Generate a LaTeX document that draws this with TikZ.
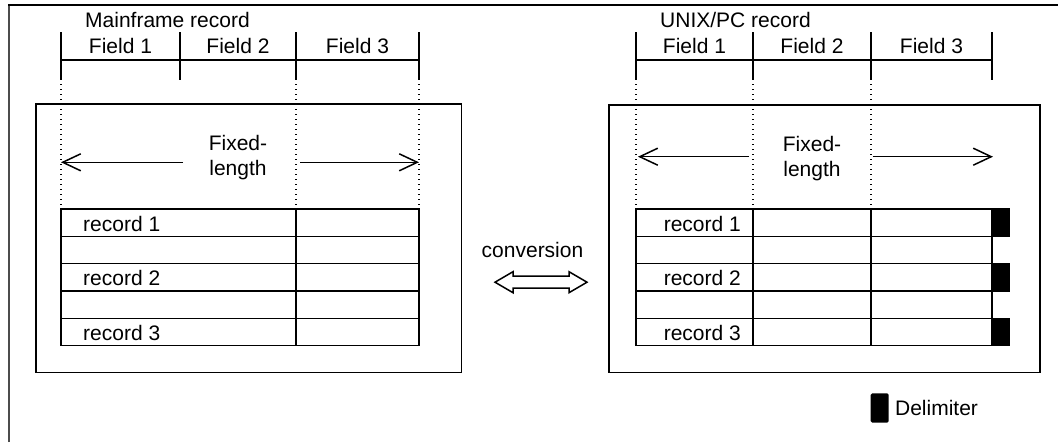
\documentclass[tikz,border=0pt]{standalone}
\usepackage{fontspec}
\setmainfont{Liberation Sans}
\usetikzlibrary{arrows.meta,positioning}

\begin{document}
\begin{tikzpicture}[x=1pt,y=-1pt]
		\tikzstyle{lbl}=[inner sep=0pt, font=\fontsize{21}{25}\selectfont]
		\tikzstyle{connect}=[line width=1.5pt]
		\tikzstyle{dots}=[line width=1.4pt, dash pattern=on 1.4pt off 3.6pt]
		\tikzstyle{span}=[line width=1.5pt, -{Straight Barb[length=18pt,width=17pt,line width=1.5pt]}]
		\tikzstyle{box}=[rectangle, draw=black!100, line width=1.5pt]
		\useasboundingbox (0,0) rectangle (1058,442);
		
		% frame
		\draw[line width=2.6pt, black!70] (9,442) -- (9,5);
		\draw[line width=2pt] (8,5) -- (1058,5);
		
		% mainframe side
		\draw[box] (36,104) rectangle (461.7,372.7);
		\node[lbl, anchor=base west] (mtitle) at (85,27) {Mainframe record};
		\draw[connect] (61,32) -- (61,80) (180,32) -- (180,80) (296,32) -- (296,80) (419,32) -- (419,80);
		\draw[connect] (61,60) -- (419,60);
		\node[lbl, anchor=base] (mf1) at (120.5,53) {Field 1};
		\node[lbl, anchor=base] (mf2) at (238,53)   {Field 2};
		\node[lbl, anchor=base] (mf3) at (357.5,53) {Field 3};
		\draw[dots] (61,84) -- (61,208) (296,84) -- (296,208) (419,84) -- (419,208);
		
		\node[lbl, anchor=north, align=center] (mfix) at (238,135) {Fixed-\\length};
		\coordinate (ma) at (183,162.3);
		\coordinate (mb) at (61,162.3);
		\coordinate (mc) at (300,162.3);
		\coordinate (md) at (419,162.3);
		\path 
		(ma) edge [span] (mb)
		
		(mc) edge [span] (md)
		;
		
		\draw[box] (61,209) rectangle (419,345.7);
		\draw[connect] (61,236.3) -- (419,236.3) (61,263.7) -- (419,263.7)
		               (61,291) -- (419,291) (61,318.3) -- (419,318.3)
		               (296,209) -- (296,345.7);
		\node[lbl, anchor=base west] (mr1) at (83,231)   {record 1};
		\node[lbl, anchor=base west] (mr2) at (83,285.7) {record 2};
		\node[lbl, anchor=base west] (mr3) at (83,340.3) {record 3};
		
		% conversion
		\node[lbl, anchor=base] (conv) at (532.5,257) {conversion};
		\coordinate (cv) at (541,282.2);
		\draw[connect, line join=miter] ([xshift=-46pt]cv) -- ++(18,-10.5) -- ++(0,4.5) -- ++(56,0) -- ++(0,-4.5)
		  -- ++(18,10.5) -- ++(-18,10.5) -- ++(0,-4.5) -- ++(-56,0) -- ++(0,4.5) -- cycle;
		
		% unix/pc side
		\draw[box] (609,105) rectangle (1040,372.7);
		\node[lbl, anchor=base west] (utitle) at (660,27) {UNIX/PC record};
		\draw[connect] (636,32) -- (636,80) (753,32) -- (753,80) (871,32) -- (871,80) (992,32) -- (992,80);
		\draw[connect] (636,60) -- (992,60);
		\node[lbl, anchor=base] (uf1) at (694.5,53) {Field 1};
		\node[lbl, anchor=base] (uf2) at (812,53)   {Field 2};
		\node[lbl, anchor=base] (uf3) at (931.5,53) {Field 3};
		\draw[dots] (636,84) -- (636,208) (753,84) -- (753,208) (871,84) -- (871,208);
		
		\node[lbl, anchor=north, align=center] (ufix) at (812,136) {Fixed-\\length};
		\coordinate (ua) at (749,156.7);
		\coordinate (ub) at (638,156.7);
		\coordinate (uc) at (872.5,156.7);
		\coordinate (ud) at (993,156.7);
		\path 
		(ua) edge [span] (ub)
		
		(uc) edge [span] (ud)
		;
		
		\draw[box] (636,209) rectangle (992,345.7);
		\draw[connect] (636,236.3) -- (992,236.3) (636,263.7) -- (992,263.7)
		               (636,291) -- (992,291) (636,318.3) -- (992,318.3)
		               (753,209) -- (753,345.7) (871,209) -- (871,345.7);
		\fill (992,208.3) rectangle (1010,237);
		\fill (992,263) rectangle (1010,291.7);
		\fill (992,317.6) rectangle (1010,346.4);
		\node[lbl, anchor=base east] (ur1) at (741,231)   {record 1};
		\node[lbl, anchor=base east] (ur2) at (741,285.7) {record 2};
		\node[lbl, anchor=base east] (ur3) at (741,340.3) {record 3};
		
		% legend
		\node[fill=black, rounded corners=1.5pt, minimum width=18pt, minimum height=29.4pt, inner sep=0pt] (key) at (879.7,408) {};
		\node[lbl, right=6pt of key] (keylbl) {Delimiter};
		
		\end{tikzpicture}
\end{document}
